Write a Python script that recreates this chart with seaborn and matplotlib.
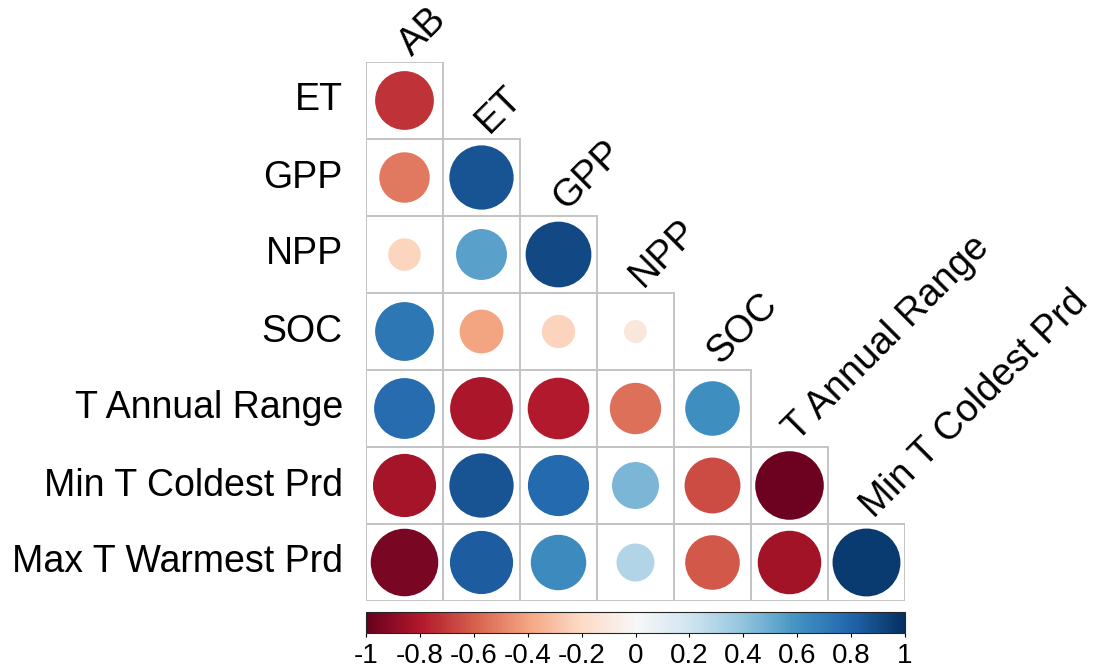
import numpy as np
import pandas as pd
import matplotlib

matplotlib.use("Agg")
import matplotlib.pyplot as plt
from matplotlib.patches import Rectangle
from matplotlib.colors import Normalize
import matplotlib.cm as cm
import seaborn as sns

# variables (rows = lower triangle, columns = first 7)
row_names = ["ET", "GPP", "NPP", "SOC", "T Annual Range", "Min T Coldest Prd", "Max T Warmest Prd"]
col_names = ["AB", "ET", "GPP", "NPP", "SOC", "T Annual Range", "Min T Coldest Prd"]

# correlation values, one list per row
r_et = [-0.72]
r_gpp = [-0.53, 0.86]
r_npp = [-0.22, 0.54, 0.90]
r_soc = [0.72, -0.40, -0.23, -0.11]
r_tar = [0.77, -0.82, -0.79, -0.55, 0.62]
r_mint = [-0.83, 0.86, 0.78, 0.46, -0.65, -0.98]
r_maxt = [-0.95, 0.83, 0.64, 0.30, -0.62, -0.84, 0.96]

cbar_ticks = [-1, -0.8, -0.6, -0.4, -0.2, 0, 0.2, 0.4, 0.6, 0.8, 1]
cbar_labels = ["-1", "-0.8", "-0.6", "-0.4", "-0.2", "0", "0.2", "0.4", "0.6", "0.8", "1"]

all_rows = [r_et, r_gpp, r_npp, r_soc, r_tar, r_mint, r_maxt]
records = []
for i, vals in enumerate(all_rows):
    for j, v in enumerate(vals):
        records.append({"row": i, "col": j, "r": v, "absr": abs(v)})
df = pd.DataFrame(records)

sns.set_theme(style="white")
plt.rcParams["font.family"] = ["Liberation Sans", "DejaVu Sans"]

W, H = 1096, 671
fig = plt.figure(figsize=(W / 100, H / 100), dpi=100)
left, top, cell = 366, 62, 77
n = 7
ax = fig.add_axes([left / W, (H - top - n * cell) / H, n * cell / W, n * cell / H])

cmap = sns.color_palette("RdBu", as_cmap=True)

# circle area proportional to |r|; full circle = 0.9 of a cell (corrplot style)
full_d_pt = cell * 0.9 * 72 / 100
sns.scatterplot(data=df, x="col", y="row", hue="r", palette=cmap, hue_norm=(-1, 1),
                size="absr", sizes=(0, full_d_pt ** 2), size_norm=(0, 1),
                linewidth=0, legend=False, ax=ax, zorder=3)

# cell boxes
for i in range(n):
    for j in range(i + 1):
        ax.add_patch(Rectangle((j - 0.5, i - 0.5), 1, 1, facecolor="none",
                               edgecolor="#c4c4c4", lw=1.4, zorder=2))

ax.set_xlim(-0.5, n - 0.5)
ax.set_ylim(n - 0.5, -0.5)
ax.set_xticks([])
ax.set_yticks([])
ax.set_xlabel("")
ax.set_ylabel("")
for s in ax.spines.values():
    s.set_visible(False)

# row labels
for i, name in enumerate(row_names):
    ax.text(-0.5 - 0.3, i, name, ha="right", va="center", fontsize=27, color="black",
            clip_on=False)

# column labels, rotated above the diagonal
for j, name in enumerate(col_names):
    ax.text(j + 0.1, j - 0.5 - 0.06, name, ha="left", va="baseline", rotation=45,
            rotation_mode="anchor", fontsize=27.5, color="black", clip_on=False)

# colorbar
cax = fig.add_axes([left / W, (H - 633) / H, n * cell / W, 21 / H])
sm = cm.ScalarMappable(norm=Normalize(-1, 1), cmap=cmap)
cb = fig.colorbar(sm, cax=cax, orientation="horizontal")
cb.set_ticks(cbar_ticks)
cb.set_ticklabels(cbar_labels)
cb.outline.set_linewidth(0.8)
cax.tick_params(axis="x", direction="out", length=3, width=0.8, labelsize=20, pad=4,
                colors="black")

fig.savefig("out.png", dpi=100)
